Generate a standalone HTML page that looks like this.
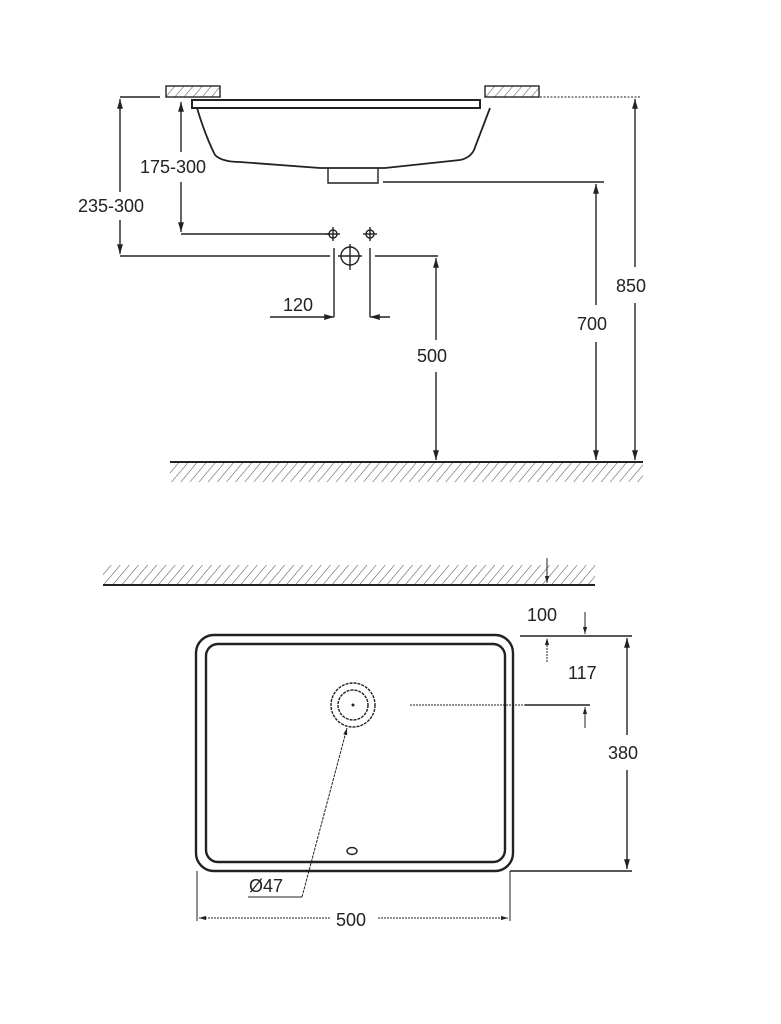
<!DOCTYPE html>
<html><head><meta charset="utf-8"><style>
html,body{margin:0;padding:0;background:#fff;}
svg{display:block;}
text{font-family:"Liberation Sans",sans-serif;font-size:18px;fill:#222;}
</style></head><body>
<svg width="781" height="1024" viewBox="0 0 781 1024" xmlns="http://www.w3.org/2000/svg">
<defs>
<pattern id="h" width="7" height="7" patternUnits="userSpaceOnUse" patternTransform="rotate(40)">
<line x1="0" y1="0" x2="0" y2="7" stroke="#555" stroke-width="1.1"/>
</pattern>
<marker id="a" viewBox="0 0 10 10" refX="10" refY="5" markerWidth="7" markerHeight="7" orient="auto-start-reverse">
<path d="M0,2 L10,5 L0,8 z" fill="#222"/>
</marker>
</defs>
<g stroke="#222" stroke-width="1.4" fill="none">
<rect x="166" y="86" width="54" height="11" fill="url(#h)"/>
<rect x="485" y="86" width="54" height="11" fill="url(#h)"/>
<path d="M192,100 L480,100 L480,108 L192,108 Z" stroke-width="2"/>
<path d="M197,108 Q205,135 215,155 Q222,162 240,162 L320,168 L385,168 L460,160 Q470,158 474,150 L490,108" stroke-width="1.8"/>
<path d="M328,168 L328,183 L378,183 L378,168"/>
<!-- 235-300 -->
<line x1="160" y1="97" x2="120" y2="97"/>
<line x1="120" y1="256" x2="330" y2="256"/>
<line x1="120" y1="192" x2="120" y2="99" marker-end="url(#a)"/>
<line x1="120" y1="220" x2="120" y2="254" marker-end="url(#a)"/>
<!-- 175-300 -->
<line x1="181" y1="234" x2="330" y2="234"/>
<line x1="181" y1="152" x2="181" y2="102" marker-end="url(#a)"/>
<line x1="181" y1="182" x2="181" y2="232" marker-end="url(#a)"/>
<!-- crosshairs -->
<circle cx="333" cy="234" r="4"/><line x1="326" y1="234" x2="340" y2="234"/><line x1="333" y1="227" x2="333" y2="241"/>
<circle cx="370" cy="234" r="4"/><line x1="363" y1="234" x2="377" y2="234"/><line x1="370" y1="227" x2="370" y2="241"/>
<circle cx="350" cy="256" r="9"/><line x1="338" y1="256" x2="362" y2="256"/><line x1="350" y1="244" x2="350" y2="270"/>
<line x1="334" y1="248" x2="334" y2="317"/>
<line x1="370" y1="248" x2="370" y2="317"/>
<line x1="270" y1="317" x2="334" y2="317" marker-end="url(#a)"/>
<line x1="390" y1="317" x2="370" y2="317" marker-end="url(#a)"/>
<!-- 500 -->
<line x1="375" y1="256" x2="438" y2="256"/>
<line x1="436" y1="340" x2="436" y2="258" marker-end="url(#a)"/>
<line x1="436" y1="372" x2="436" y2="460" marker-end="url(#a)"/>
<!-- 700 -->
<line x1="383" y1="182" x2="604" y2="182"/>
<line x1="596" y1="305" x2="596" y2="184" marker-end="url(#a)"/>
<line x1="596" y1="342" x2="596" y2="460" marker-end="url(#a)"/>
<!-- 850 -->
<line x1="540" y1="97" x2="640" y2="97" stroke-dasharray="2,1.5" stroke-width="1"/>
<line x1="635" y1="267" x2="635" y2="99" marker-end="url(#a)"/>
<line x1="635" y1="303" x2="635" y2="460" marker-end="url(#a)"/>
<!-- floor -->
<rect x="170" y="462" width="473" height="20" fill="url(#h)" stroke="none"/>
<line x1="170" y1="462" x2="643" y2="462" stroke-width="2"/>
<!-- wall -->
<rect x="103" y="565" width="492" height="20" fill="url(#h)" stroke="none"/>
<line x1="103" y1="585" x2="595" y2="585" stroke-width="2"/>
<line x1="547" y1="558" x2="547" y2="583" marker-end="url(#a)" stroke-width="1"/>
<!-- sink plan -->
<rect x="196" y="635" width="317" height="236" rx="18" stroke-width="2.4"/>
<rect x="206" y="644" width="299" height="218" rx="12" stroke-width="2.4"/>
<circle cx="353" cy="705" r="22" stroke-dasharray="3,1"/>
<circle cx="353" cy="705" r="15" stroke-dasharray="3,1"/>
<circle cx="353" cy="705" r="0.8" fill="#222"/>
<ellipse cx="352" cy="851" rx="5" ry="3.5"/>
<!-- 100 / 117 -->
<line x1="520" y1="636" x2="632" y2="636"/>
<line x1="585" y1="612" x2="585" y2="634" marker-end="url(#a)" stroke-width="1"/>
<line x1="547" y1="662" x2="547" y2="638" marker-end="url(#a)" stroke-width="1" stroke-dasharray="2,1"/>
<line x1="410" y1="705" x2="525" y2="705" stroke-dasharray="2,1" stroke-width="1"/>
<line x1="525" y1="705" x2="590" y2="705"/>
<line x1="585" y1="728" x2="585" y2="707" marker-end="url(#a)" stroke-width="1"/>
<!-- 380 -->
<line x1="510" y1="871" x2="632" y2="871"/>
<line x1="627" y1="735" x2="627" y2="638" marker-end="url(#a)"/>
<line x1="627" y1="770" x2="627" y2="869" marker-end="url(#a)"/>
<!-- 500 -->
<line x1="197" y1="871" x2="197" y2="921" stroke-width="1"/>
<line x1="510" y1="871" x2="510" y2="921" stroke-width="1"/>
<line x1="330" y1="918" x2="199" y2="918" marker-end="url(#a)" stroke-dasharray="2,1" stroke-width="1"/>
<line x1="378" y1="918" x2="508" y2="918" marker-end="url(#a)" stroke-dasharray="2,1" stroke-width="1"/>
<!-- Ø47 leader -->
<polyline points="248,897 302,897" stroke-width="1"/>
<line x1="302" y1="897" x2="347" y2="728" marker-end="url(#a)" stroke-width="1" stroke-dasharray="3,1"/>
</g>
<g stroke="none">
<text x="140" y="173">175-300</text>
<text x="78" y="212">235-300</text>
<text x="283" y="311">120</text>
<text x="417" y="362">500</text>
<text x="577" y="330">700</text>
<text x="616" y="292">850</text>
<text x="527" y="621">100</text>
<text x="568" y="679">117</text>
<text x="608" y="759">380</text>
<text x="249" y="892">Ø47</text>
<text x="336" y="926">500</text>
</g>
</svg>
</body></html>
